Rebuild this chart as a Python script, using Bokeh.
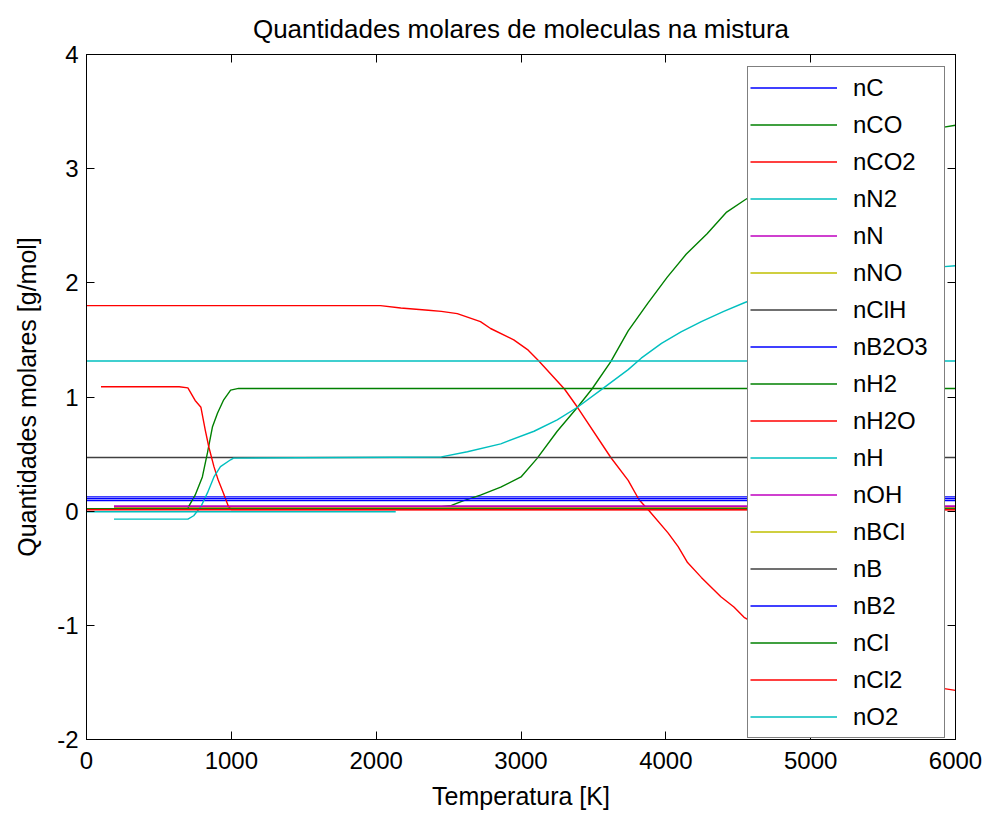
from bokeh.plotting import figure
from bokeh.models import (Range1d, LinearAxis, FixedTicker, Legend, LegendItem,
                          CustomJSTickFormatter)
from bokeh.embed import file_html
from bokeh.resources import INLINE

# ---------------- data ----------------
x_ticks = [0, 1000, 2000, 3000, 4000, 5000, 6000]
y_ticks = [-2, -1, 0, 1, 2, 3, 4]
y_tick_labels = ["-2", "-1", "0", "1", "2", "3", "4"]

names = ["nC", "nCO", "nCO2", "nN2", "nN", "nNO", "nClH", "nB2O3", "nH2",
         "nH2O", "nH", "nOH", "nBCl", "nB", "nB2", "nCl", "nCl2", "nO2"]

T_nC = [0, 6000]
v_nC = [0.125, 0.125]

T_nCO = [0, 2400, 2450, 2520, 2600, 2720, 2860, 3000, 3110, 3250, 3390, 3490,
         3620, 3740, 3875, 4010, 4140, 4285, 4420, 4550, 4750, 5000, 5250,
         5500, 5750, 5900, 6000]
v_nCO = [0.02, 0.02, 0.04, 0.05, 0.09, 0.14, 0.21, 0.30, 0.46, 0.70, 0.91, 1.07,
         1.31, 1.58, 1.82, 2.05, 2.25, 2.43, 2.62, 2.73, 2.88, 3.05, 3.18,
         3.27, 3.33, 3.36, 3.38]

T_nCO2 = [0, 2030, 2170, 2360, 2450, 2560, 2630, 2720, 2790, 2950, 3050, 3120,
          3300, 3390, 3620, 3740, 3815, 3880, 4015, 4085, 4150, 4245, 4380,
          4470, 4540, 4750, 5000, 5250, 5500, 5750, 5900, 6000]
v_nCO2 = [1.80, 1.80, 1.78, 1.76, 1.75, 1.73, 1.70, 1.66, 1.60, 1.50, 1.41, 1.32,
          1.07, 0.91, 0.47, 0.27, 0.10, 0.01, -0.19, -0.31, -0.45, -0.58, -0.75,
          -0.84, -0.93, -1.08, -1.23, -1.35, -1.44, -1.51, -1.55, -1.57]

T_nN2 = [0, 6000]
v_nN2 = [1.315, 1.315]

T_nN = [190, 6000]
v_nN = [0.045, 0.045]

T_nNO = [190, 6000]
v_nNO = [0.03, 0.03]

T_nClH = [0, 6000]
v_nClH = [0.47, 0.47]

T_nB2O3 = [0, 6000]
v_nB2O3 = [0.093, 0.093]

T_nH2 = [0, 700, 705, 750, 800, 835, 870, 905, 945, 995, 1050, 6000]
v_nH2 = [0.02, 0.02, 0.04, 0.14, 0.30, 0.51, 0.74, 0.86, 0.97, 1.06, 1.075, 1.075]

T_nH2O = [100, 640, 700, 750, 790, 820, 845, 880, 910, 945, 980, 1000, 6000]
v_nH2O = [1.09, 1.09, 1.08, 0.97, 0.91, 0.71, 0.56, 0.39, 0.27, 0.16, 0.04, 0.015, 0.015]

T_nH = [190, 700, 740, 790, 835, 880, 925, 995, 1015, 2450, 2630, 2860, 3090,
        3250, 3390, 3550, 3740, 3830, 3970, 4105, 4245, 4400, 4550, 4750, 5000,
        5250, 5500, 5750, 5900, 6000]
v_nH = [-0.07, -0.07, -0.04, 0.04, 0.16, 0.30, 0.39, 0.45, 0.465, 0.475, 0.52,
        0.59, 0.70, 0.80, 0.91, 1.06, 1.24, 1.34, 1.47, 1.57, 1.66, 1.75, 1.83,
        1.91, 1.98, 2.04, 2.09, 2.12, 2.14, 2.15]

T_nOH = [190, 6000]
v_nOH = [0.04, 0.04]

T_nBCl = [0, 6000]
v_nBCl = [0.02, 0.02]

T_nB = [0, 6000]
v_nB = [0.02, 0.02]

T_nB2 = [0, 6000]
v_nB2 = [0.11, 0.11]

T_nCl = [0, 6000]
v_nCl = [0.02, 0.02]

T_nCl2 = [0, 6000]
v_nCl2 = [0.013, 0.013]

T_nO2 = [0, 2135]
v_nO2 = [-0.005, -0.005]

series_T = [T_nC, T_nCO, T_nCO2, T_nN2, T_nN, T_nNO, T_nClH, T_nB2O3, T_nH2,
            T_nH2O, T_nH, T_nOH, T_nBCl, T_nB, T_nB2, T_nCl, T_nCl2, T_nO2]
series_v = [v_nC, v_nCO, v_nCO2, v_nN2, v_nN, v_nNO, v_nClH, v_nB2O3, v_nH2,
            v_nH2O, v_nH, v_nOH, v_nBCl, v_nB, v_nB2, v_nCl, v_nCl2, v_nO2]

# MATLAB classic colour order
color_order = ["#0000ff", "#008000", "#ff0000", "#00bfbf", "#bf00bf", "#bfbf00", "#404040"]

FONT = "Liberation Sans"

p = figure(width=986, height=814, output_backend="svg", toolbar_location=None,
           x_range=Range1d(0, 6000), y_range=Range1d(-2, 4),
           min_border_left=86, min_border_right=31, min_border_top=54,
           min_border_bottom=75, x_axis_label="Temperatura [K]",
           y_axis_label="Quantidades molares [g/mol]",
           title="Quantidades molares de moleculas na mistura")

p.background_fill_color = "white"
p.border_fill_color = "white"
p.outline_line_color = "black"
p.xgrid.visible = False
p.ygrid.visible = False

p.title.align = "center"
p.title.text_font = FONT
p.title.text_font_size = "26px"
p.title.text_font_style = "normal"
p.title.text_color = "black"
p.title.standoff = 22

for ax in (p.xaxis[0], p.yaxis[0]):
    ax.major_tick_in = 8
    ax.major_tick_out = 0
    ax.minor_tick_in = 0
    ax.minor_tick_out = 0
    ax.axis_line_color = "black"
    ax.major_tick_line_color = "black"
    ax.major_label_text_font = FONT
    ax.major_label_text_font_size = "24px"
    ax.major_label_text_color = "black"
    ax.axis_label_text_font = FONT
    ax.axis_label_text_font_size = "25px"
    ax.axis_label_text_font_style = "normal"
    ax.axis_label_text_color = "black"

p.xaxis[0].ticker = FixedTicker(ticks=x_ticks)
p.yaxis[0].ticker = FixedTicker(ticks=y_ticks)
p.yaxis[0].major_label_overrides = {t: s for t, s in zip(y_ticks, y_tick_labels)}
p.xaxis[0].major_label_standoff = 12
p.xaxis[0].axis_label_standoff = 10
p.yaxis[0].major_label_standoff = 8
p.yaxis[0].axis_label_standoff = 13

blank = CustomJSTickFormatter(code="return ''")
top_ax = LinearAxis(ticker=FixedTicker(ticks=x_ticks), formatter=blank,
                    major_tick_in=8, major_tick_out=0, minor_tick_in=0, minor_tick_out=0,
                    axis_line_color="black", major_label_standoff=0,
                    major_label_text_font_size="0px")
right_ax = LinearAxis(ticker=FixedTicker(ticks=y_ticks), formatter=blank,
                      major_tick_in=8, major_tick_out=0, minor_tick_in=0, minor_tick_out=0,
                      axis_line_color="black", major_label_standoff=0,
                      major_label_text_font_size="0px")
p.add_layout(top_ax, "above")
p.add_layout(right_ax, "right")

items = []
for i, (nm, T, v) in enumerate(zip(names, series_T, series_v)):
    r = p.line(T, v, line_color=color_order[i % 7], line_width=1.4)
    items.append(LegendItem(label=nm, renderers=[r]))

legend = Legend(items=items, location=(661, 1), orientation="vertical",
                padding=2, spacing=0, margin=0, glyph_width=87, glyph_height=37,
                label_height=37, label_width=89, label_standoff=16,
                label_text_font=FONT, label_text_font_size="24px",
                label_text_color="black", border_line_color="black",
                border_line_width=1, background_fill_color="white",
                background_fill_alpha=1.0)
p.add_layout(legend, "center")

open("out.html", "w").write(file_html(p, INLINE))
